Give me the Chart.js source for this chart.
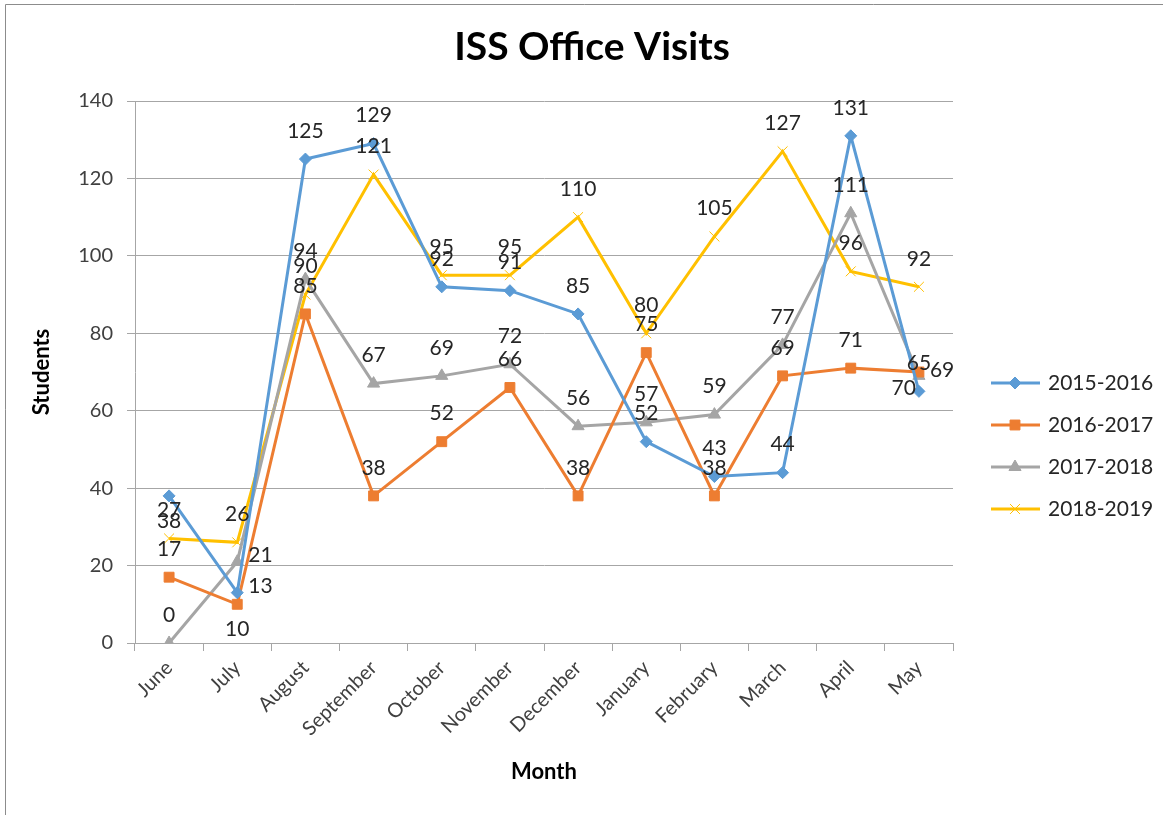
<!DOCTYPE html>
<html>
<head>
<meta charset="utf-8">
<title>ISS Office Visits</title>
<script src="https://cdn.jsdelivr.net/npm/chart.js@4.4.1/dist/chart.umd.min.js"></script>
<style>
  html, body { margin: 0; padding: 0; background: #fff; }
  #wrap { position: relative; width: 1163px; height: 815px; }
</style>
</head>
<body>
<div id="wrap"><canvas id="myChart" width="1163" height="815"></canvas></div>
<script>
'use strict';

// DATA

let months = ['June', 'July', 'August', 'September', 'October', 'November', 'December', 'January', 'February', 'March', 'April', 'May'];

let seriesNames = ['2015-2016', '2016-2017', '2017-2018', '2018-2019'];

let visits1516 = [38, 13, 125, 129, 92, 91, 85, 52, 43, 44, 131, 65];
let visits1617 = [17, 10, 85, 38, 52, 66, 38, 75, 38, 69, 71, 70];
let visits1718 = [0, 21, 94, 67, 69, 72, 56, 57, 59, 77, 111, 69];
let visits1819 = [27, 26, 90, 121, 95, 95, 110, 80, 105, 127, 96, 92];

let yMin = 0;
let yMax = 140;
let yStep = 20;

let chartTitle = 'ISS Office Visits';
let xTitle = 'Month';
let yTitle = 'Students';

// STYLE

let fontName = 'Lato, Carlito, "Open Sans", sans-serif';
let colors = ['#5b9bd5', '#ed7d31', '#a5a5a5', '#ffc000'];
let markers = [
  { pointStyle: 'rectRot', radius: 6, borderWidth: 1 },
  { pointStyle: 'rect', radius: 7, borderWidth: 1 },
  { pointStyle: 'triangle', radius: 7, borderWidth: 1 },
  { pointStyle: 'crossRot', radius: 7, borderWidth: 1 }
];

// where a data label sits when it is not above its point ('dataset:index')
let labelSpots = {
  '0:0': 'below',
  '0:1': 'right',
  '1:1': 'below',
  '1:11': 'left',
  '2:1': 'right',
  '2:11': 'right'
};

let allValues = [visits1516, visits1617, visits1718, visits1819];

let datasets = [];
for (let i = 0; i < seriesNames.length; i++) {
  datasets.push({
    label: seriesNames[i],
    data: allValues[i],
    borderColor: colors[i],
    backgroundColor: colors[i],
    borderWidth: 3,
    tension: 0,
    pointStyle: markers[i].pointStyle,
    pointRadius: markers[i].radius,
    pointBorderWidth: markers[i].borderWidth,
    pointBackgroundColor: colors[i],
    pointBorderColor: colors[i]
  });
}

// background, frame and title
const framePlugin = {
  id: 'frame',
  beforeDraw(chart) {
    let ctx = chart.ctx;
    ctx.save();
    ctx.fillStyle = '#fff';
    ctx.fillRect(0, 0, chart.width, chart.height);
    ctx.strokeStyle = '#8c8c8c';
    ctx.lineWidth = 1;
    ctx.beginPath();
    ctx.moveTo(5.5, chart.height);
    ctx.lineTo(5.5, 4.5);
    ctx.lineTo(chart.width, 4.5);
    ctx.stroke();
    ctx.restore();
  },
  afterDraw(chart) {
    let ctx = chart.ctx;
    ctx.save();
    ctx.fillStyle = '#000';
    ctx.font = 'bold 39px ' + fontName;
    ctx.textAlign = 'center';
    ctx.textBaseline = 'middle';
    ctx.fillText(chartTitle, 592, 47);
    ctx.restore();
  }
};

// value labels next to every point
const valueLabels = {
  id: 'valueLabels',
  afterDatasetsDraw(chart) {
    let ctx = chart.ctx;
    ctx.save();
    ctx.font = '21px ' + fontName;
    ctx.fillStyle = '#262626';
    ctx.textBaseline = 'middle';
    chart.data.datasets.forEach(function(ds, d) {
      let meta = chart.getDatasetMeta(d);
      meta.data.forEach(function(pt, i) {
        let spot = labelSpots[d + ':' + i] || 'above';
        let x = pt.x;
        let y = pt.y;
        ctx.textAlign = 'center';
        if (spot === 'above') {
          y -= 28;
        } else if (spot === 'below') {
          y += 25;
        } else if (spot === 'right') {
          ctx.textAlign = 'left';
          x += 11;
          y -= 6;
        } else if (spot === 'left') {
          ctx.textAlign = 'right';
          x -= 3;
          y += 16;
        }
        ctx.fillText(String(ds.data[i]), x, y);
      });
    });
    ctx.restore();
  }
};

// legend on the right: line with marker, then name
const sideLegend = {
  id: 'sideLegend',
  afterDraw(chart) {
    let ctx = chart.ctx;
    ctx.save();
    for (let i = 0; i < chart.data.datasets.length; i++) {
      let ds = chart.data.datasets[i];
      let y = 383 + i * 42;
      ctx.strokeStyle = ds.borderColor;
      ctx.lineWidth = 3;
      ctx.beginPath();
      ctx.moveTo(991, y);
      ctx.lineTo(1040, y);
      ctx.stroke();
      ctx.fillStyle = ds.borderColor;
      ctx.lineWidth = ds.pointBorderWidth;
      Chart.helpers.drawPoint(ctx, {
        pointStyle: ds.pointStyle,
        radius: ds.pointRadius,
        borderWidth: ds.pointBorderWidth,
        rotation: 0
      }, 1015, y);
      ctx.fillStyle = '#262626';
      ctx.font = '21px ' + fontName;
      ctx.textAlign = 'left';
      ctx.textBaseline = 'middle';
      ctx.fillText(ds.label, 1048, y);
    }
    ctx.restore();
  }
};

const config = {
  type: 'line',
  data: {
    labels: months,
    datasets: datasets
  },
  options: {
    responsive: false,
    animation: false,
    events: [],
    layout: {
      padding: { top: 101, right: 210, left: 0, bottom: 0 }
    },
    plugins: {
      legend: { display: false },
      title: { display: false },
      tooltip: { enabled: false }
    },
    scales: {
      x: {
        offset: true,
        afterFit(scale) { scale.height = 172; },
        grid: {
          display: true,
          drawOnChartArea: false,
          drawTicks: true,
          tickLength: 8,
          color: '#a6a6a6',
          offset: true
        },
        border: { display: true, color: '#a6a6a6', width: 1 },
        ticks: {
          maxRotation: 45,
          minRotation: 45,
          autoSkip: false,
          padding: 5,
          color: '#404040',
          font: { family: fontName, size: 20 }
        },
        title: {
          display: true,
          text: xTitle,
          color: '#000',
          font: { family: fontName, size: 22, weight: 'bold' },
          padding: { top: 0, bottom: 30 }
        }
      },
      y: {
        min: yMin,
        max: yMax,
        afterFit(scale) { scale.width = 135; },
        ticks: {
          stepSize: yStep,
          padding: 14,
          color: '#404040',
          font: { family: fontName, size: 20 }
        },
        grid: {
          color: '#a6a6a6',
          tickLength: 8,
          drawTicks: true
        },
        border: { display: true, color: '#a6a6a6', width: 1 },
        title: {
          display: true,
          text: yTitle,
          color: '#000',
          font: { family: fontName, size: 22, weight: 'bold' },
          padding: { top: 29, bottom: 0 }
        }
      }
    }
  },
  plugins: [framePlugin, valueLabels, sideLegend]
};

new Chart(document.getElementById('myChart').getContext('2d'), config);
</script>
</body>
</html>
